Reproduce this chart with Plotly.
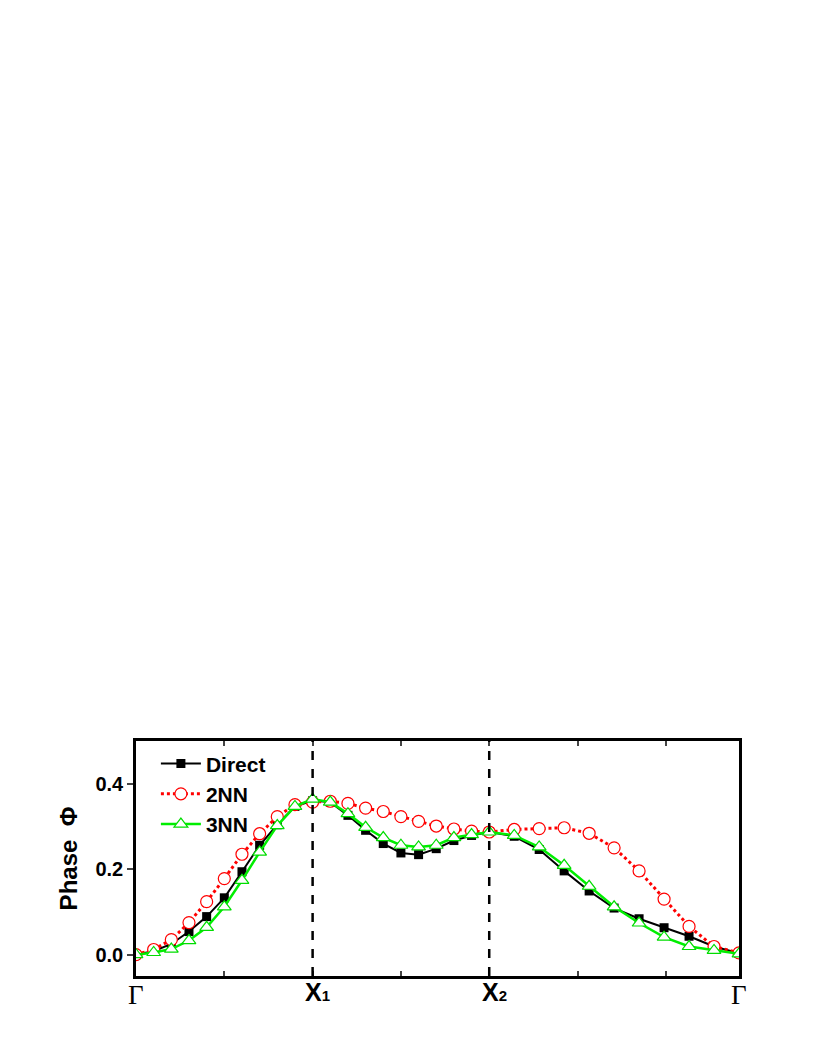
import numpy as np
import plotly.graph_objects as go

# k-path positions: Γ-X1 (1), X1-X2 (1), X2-Γ (√2), 10 steps each
seg_len = [1.0, 1.0, np.sqrt(2)]
k = [0.0]
for L in seg_len:
    for i in range(10):
        k.append(k[-1] + L / 10)
k = np.array(k)

direct = [0.0, 0.008, 0.025, 0.054, 0.089, 0.133, 0.194, 0.256, 0.304, 0.347, 0.360,
          0.357, 0.326, 0.291, 0.260, 0.238, 0.234, 0.248, 0.267, 0.279, 0.287,
          0.277, 0.246, 0.196, 0.149, 0.109, 0.084, 0.063, 0.043, 0.019, 0.003]
nn2 = [0.0, 0.012, 0.035, 0.075, 0.124, 0.178, 0.235, 0.283, 0.323, 0.351, 0.357,
       0.359, 0.354, 0.343, 0.335, 0.323, 0.312, 0.301, 0.294, 0.289, 0.287,
       0.293, 0.295, 0.297, 0.284, 0.250, 0.196, 0.130, 0.066, 0.019, 0.004]
nn3 = [0.0, 0.005, 0.013, 0.033, 0.064, 0.112, 0.174, 0.240, 0.302, 0.347, 0.364,
       0.357, 0.330, 0.298, 0.274, 0.256, 0.252, 0.256, 0.274, 0.281, 0.287,
       0.279, 0.252, 0.209, 0.160, 0.112, 0.074, 0.041, 0.019, 0.010, 0.002]

sym_pos = [0.0, 1.0, 2.0, 2.0 + np.sqrt(2)]
sym_main = ["Γ", "X", "X", "Γ"]
sym_sub = ["", "1", "2", ""]

fig = go.Figure()
fig.add_trace(go.Scatter(x=k, y=direct, name="Direct", mode="lines+markers",
                         line=dict(color="black", width=2),
                         marker=dict(symbol="square", size=9, color="black")))
fig.add_trace(go.Scatter(x=k, y=nn2, name="2NN", mode="lines+markers",
                         line=dict(color="#ff0000", width=3, dash="dot"),
                         marker=dict(symbol="circle", size=12, color="white",
                                     line=dict(color="#ff0000", width=1.2))))
fig.add_trace(go.Scatter(x=k, y=nn3, name="3NN", mode="lines+markers",
                         line=dict(color="#00ee00", width=2.5),
                         marker=dict(symbol="triangle-up", size=12, color="white",
                                     line=dict(color="#00dd00", width=1.2))))

for xp in sym_pos[1:3]:
    fig.add_shape(type="line", x0=xp, x1=xp, y0=0, y1=1, xref="x", yref="paper",
                  line=dict(color="black", width=2.5, dash="dash"))

for xp, m, s in zip(sym_pos, sym_main, sym_sub):
    if m == "Γ":
        fig.add_annotation(x=xp, y=-0.05, xref="x", yref="y", text=m, showarrow=False,
                           yanchor="top", yshift=-2,
                           font=dict(family="Liberation Serif, Times New Roman, serif", size=27, color="black"))
    else:
        fig.add_annotation(x=xp, y=-0.05, xref="x", yref="y",
                           text="<b>" + m + "<span style='font-size:15px'>" + s + "</span></b>",
                           showarrow=False, yanchor="top", yshift=0, xshift=5,
                           font=dict(family="Liberation Sans, Arial, sans-serif", size=25, color="black"))

fig.update_layout(
    width=817, height=1058,
    margin=dict(l=128, r=86, t=733, b=90),
    paper_bgcolor="white", plot_bgcolor="white",
    font=dict(family="Liberation Sans, Arial, sans-serif", color="black"),
    showlegend=True,
    legend=dict(x=0.033, y=0.99, xanchor="left", yanchor="top",
                bgcolor="rgba(0,0,0,0)", tracegroupgap=0,
                font=dict(size=21, family="Liberation Sans, Arial, sans-serif", weight="bold"),
                itemwidth=40),
    xaxis=dict(range=[0, 2 + np.sqrt(2)], tickvals=[0.5 * i for i in range(7)],
               ticktext=[""] * 7, ticks="inside", ticklen=5, tickwidth=1.5,
               showgrid=False, zeroline=False, showline=True, linewidth=2.5,
               linecolor="black", mirror="ticks", automargin=False),
    yaxis=dict(range=[-0.05, 0.5], tickvals=[0.0, 0.2, 0.4], ticktext=["0.0", "0.2", "0.4"],
               ticks="outside", ticklen=6, tickwidth=2,
               showgrid=False, zeroline=False, showline=True, linewidth=2.5,
               linecolor="black", mirror=True, automargin=False,
               tickfont=dict(size=20, weight="bold"),
               title=dict(text="<b>Phase  Φ</b>", font=dict(size=24), standoff=12)),
)

fig.write_html("out.html")
